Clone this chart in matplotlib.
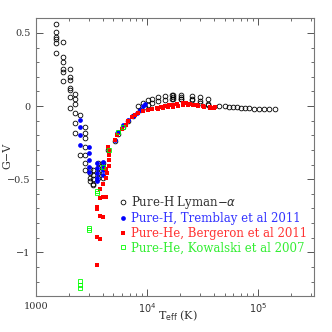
"""
Diagrama G-V vs Teff para anãs brancas frias: modelos puros de H e He.
"""
import matplotlib.pyplot as plt

# --- Pure-H Lyman-alpha (círculos abertos) ---
ly_T = [1505, 1505, 1505, 1505, 1505, 1505,
        1740, 1740, 1740, 1740, 1740, 1740,
        2025, 2025, 2025, 2025, 2025, 2025, 2025,
        2245, 2245, 2245, 2245, 2245, 2245,
        2490, 2490, 2763, 2763, 2763, 2763, 2763, 2763, 2763,
        3063, 3063, 3063, 3063, 3282, 3282, 3282, 3282, 3282,
        3640, 3640, 3640, 3640, 4040, 4040, 4040, 4040,
        4480, 5150, 5500, 6100, 6800, 7500,
        8350, 9265, 10280, 11020, 12640, 14520, 16690, 17260, 20140, 25270, 30010, 35650,
        8650, 9590, 10280, 11020, 12640, 14520, 16690, 20140, 25270, 30010, 35650,
        17260, 17260, 20140, 20140, 25270, 30010, 35650,
        44780, 50420, 55100, 59850, 65100, 70750, 76850, 83500, 92600,
        102800, 113200, 126400, 142300]
ly_gv = [0.56, 0.51, 0.47, 0.457, 0.434, 0.365,
         0.436, 0.334, 0.303, 0.253, 0.235, 0.173,
         0.254, 0.20, 0.178, 0.125, 0.064, 0.11, -0.012,
         0.08, 0.048, 0.012, -0.05, -0.114, -0.183,
         -0.062, -0.336, -0.142, -0.183, -0.217, -0.28, -0.336, -0.388, -0.434,
         -0.427, -0.459, -0.493, -0.51, -0.434, -0.47, -0.50, -0.53, -0.54,
         -0.39, -0.425, -0.459, -0.491, -0.39, -0.425, -0.459, -0.491,
         -0.30, -0.24, -0.19, -0.14, -0.10, -0.07,
         0.0, 0.023, 0.041, 0.05, 0.06, 0.068, 0.075, 0.075, 0.075, 0.068, 0.06, 0.046,
         -0.027, -0.005, 0.01, 0.023, 0.035, 0.041, 0.046, 0.046, 0.041, 0.023, 0.014,
         0.06, 0.05, 0.064, 0.05, 0.05, 0.035, 0.005,
         0.0, 0.0, -0.005, -0.007, -0.009, -0.012, -0.014, -0.016, -0.021,
         -0.021, -0.023, -0.023, -0.023]

# --- Pure-H, Tremblay et al 2011 ---
tr_T = [2490, 2490, 2490, 2490,
        3020, 3020, 3020, 3020, 3020,
        3524, 3524, 3524, 3524, 3524,
        4040, 4040, 4040, 4040,
        5150, 5400, 5510, 6115, 6790, 7530, 8075, 8650, 9265, 9590]
tr_gv = [-0.096, -0.142, -0.199, -0.267,
         -0.283, -0.324, -0.37, -0.416, -0.452,
         -0.39, -0.425, -0.459, -0.493, -0.51,
         -0.381, -0.411, -0.44, -0.47,
         -0.233, -0.185, -0.176, -0.13, -0.096, -0.068, -0.05, -0.027, 0.0, 0.014]

# --- Pure-He, Bergeron et al 2011 ---
be_T = [3524, 3524, 3773, 3524, 3524, 3773, 4040,
        3773, 3773, 4040, 4274, 4040, 4274, 4387, 4274,
        4575, 4575, 4575, 4575, 4480,
        5150, 5400, 5985, 6425, 6790, 7280, 7800, 8350, 9265, 10280, 11160, 12220,
        13290, 14520, 15780, 17260, 18530, 21250, 22460, 24390, 28050, 32140, 36950, 41210,
        12640, 14000, 15500, 17000, 19000, 21000, 23500, 26000, 29000, 33000, 37000, 40500]
be_gv = [-1.087, -0.895, -0.909, -0.69, -0.705, -0.753, -0.758,
         -0.564, -0.632, -0.621, -0.621, -0.536, -0.491, -0.461, -0.427,
         -0.301, -0.335, -0.37, -0.41, -0.279,
         -0.233, -0.20, -0.16, -0.13, -0.10, -0.077, -0.062, -0.046, -0.034, -0.027, -0.021, -0.014,
         -0.007, 0.0, 0.005, 0.009, 0.014, 0.018, 0.023, 0.014, 0.007, 0.002, -0.005, -0.005,
         -0.02, -0.014, -0.009, -0.005, 0.0, 0.005, 0.007, 0.005, 0.0, -0.007, -0.012, -0.014]

# --- Pure-He, Kowalski et al 2007 ---
ko_T = [2490, 2490, 2490, 3020, 3020, 3524, 3524, 3990, 4575, 5510, 6115]
ko_gv = [-1.199, -1.221, -1.245, -0.834, -0.845, -0.582, -0.592, -0.416, -0.30, -0.176, -0.14]

plt.rcParams['font.family'] = 'DejaVu Serif'
fig = plt.figure(figsize=(3.32, 3.32), dpi=100)
ax = fig.add_axes([0.108, 0.108, 0.838, 0.838])

ax.plot(ly_T, ly_gv, 'o', mfc='none', mec='black', mew=0.6, ms=3.4,
        label=r'Pure-H Lyman$-\alpha$')
ax.plot(tr_T, tr_gv, 'o', color='blue', ms=3.4, mew=0,
        label='Pure-H, Tremblay et al 2011')
ax.plot(be_T, be_gv, 's', color='red', ms=2.5, mew=0,
        label='Pure-He, Bergeron et al 2011')
ax.plot(ko_T, ko_gv, 's', mfc='none', mec='lime', mew=0.6, ms=2.6,
        label='Pure-He, Kowalski et al 2007')

ax.set_xscale('log')
ax.set_xlim(1000, 3.2e5)
ax.set_ylim(-1.30, 0.603)
ax.set_xticks([1000, 1e4, 1e5])
ax.set_xticklabels(['1000', r'$10^4$', r'$10^5$'])
ax.set_yticks([0.5, 0, -0.5, -1])
ax.set_yticklabels(['0.5', '0', '\u22120.5', '\u22121'])
ax.set_yticks([v / 10 for v in range(-13, 7)], minor=True)
ax.tick_params(which='both', direction='in', top=True, right=True,
               colors='#555555', labelcolor='#333333', labelsize=7)
ax.tick_params(which='major', length=5, width=0.7, pad=4)
ax.tick_params(which='minor', length=2.5, width=0.6)
for s in ax.spines.values():
    s.set_color('#777777')
    s.set_linewidth(0.8)

fig.text(0.535, 0.048, r'T$_{\rm eff}$ (K)', fontsize=8, color='#333333',
         ha='center', va='center')
fig.text(0.022, 0.53, 'G\u2212V', fontsize=8, color='#333333',
         ha='center', va='center', rotation=90)

leg = ax.legend(loc='lower right', bbox_to_anchor=(1.0, 0.125), frameon=False,
                fontsize=8.5, handlelength=0.6, handletextpad=0.4,
                labelspacing=0.12, borderaxespad=0.2)
for txt, c in zip(leg.get_texts(), ['#333333', '#3333ff', '#ff3333', '#33ee33']):
    txt.set_color(c)

plt.savefig('out.png', dpi=100)
plt.close()
